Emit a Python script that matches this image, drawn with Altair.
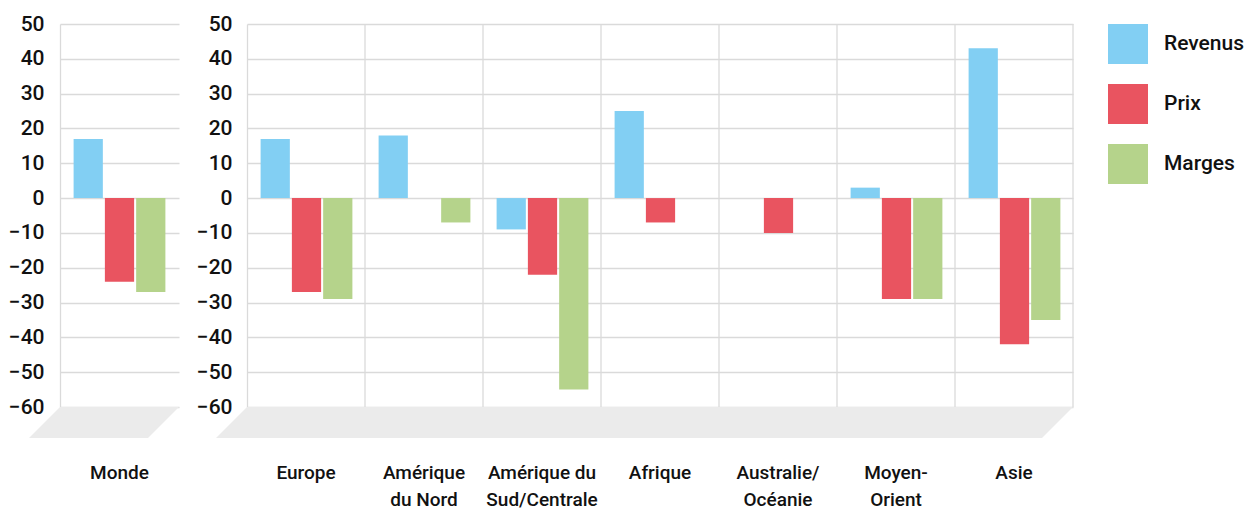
import altair as alt
import pandas as pd

# ---------------- data ----------------
series = ["Revenus", "Prix", "Marges"]
colors = ["#82CFF3", "#E95460", "#B5D38B"]

world = ["Monde"]
world_revenus = [17]
world_prix = [-24]
world_marges = [-27]

regions = ["Europe", "Amérique\ndu Nord", "Amérique du\nSud/Centrale", "Afrique",
           "Australie/\nOcéanie", "Moyen-\nOrient", "Asie"]
revenus = [17, 18, -9, 25, 0, 3, 43]
prix = [-27, 0, -22, -7, -10, -29, -42]
marges = [-29, -7, -55, 0, 0, -29, -35]

y_ticks = list(range(-60, 51, 10))

# ---------------- style ----------------
GRID = "#DADADA"
FLOOR = "#EBEBEB"
FONT = "Roboto"
H = 383
W_WORLD = 119
W_REG = 826
DEPTH = 31


def long_df(cats, rev, pri, mar):
    rows = []
    for c, a, b, d in zip(cats, rev, pri, mar):
        rows.append({"cat": c, "serie": "Revenus", "val": a})
        rows.append({"cat": c, "serie": "Prix", "val": b})
        rows.append({"cat": c, "serie": "Marges", "val": d})
    return pd.DataFrame(rows)


def floor_path(W):
    k = W / 2.0
    d = DEPTH / 2.0
    pts = [(-W / 2 + d, -d), (W / 2 + d, -d), (W / 2 - d, d), (-W / 2 - d, d)]
    s = "M" + " L".join(f"{x / k:.5f},{y / k:.5f}" for x, y in pts) + " Z"
    return s


def x_axis():
    return alt.Axis(title=None, ticks=False, domain=False, grid=False,
                    labelAngle=0, labelPadding=56, labelFontSize=19,
                    labelLineHeight=27, labelFont=FONT, labelFontWeight=500,
                    labelColor="#111111", labelBaseline="top",
                    labelExpr="split(datum.label, '\\n')")


def panel(cats, rev, pri, mar, W, label_pad, with_rules):
    df = long_df(cats, rev, pri, mar)
    x_enc = alt.X("cat:N", sort=cats,
                  scale=alt.Scale(paddingInner=0, paddingOuter=0), axis=x_axis())
    y_enc = alt.Y(
        "val:Q",
        scale=alt.Scale(domain=[-60, 50], nice=False, zero=False),
        axis=alt.Axis(title=None, values=y_ticks, ticks=False, domain=True,
                      domainColor=GRID, domainWidth=1.3, grid=True,
                      gridColor=GRID, gridWidth=1.3, labelFontSize=21,
                      labelFont=FONT, labelFontWeight=500, labelColor="#111111",
                      labelPadding=label_pad),
    )
    bars = alt.Chart(df).mark_bar(strokeWidth=0).encode(
        x=x_enc,
        xOffset=alt.XOffset("serie:N", sort=series,
                            scale=alt.Scale(paddingInner=0.065, paddingOuter=0.435)),
        y=y_enc,
        color=alt.Color("serie:N", sort=series,
                        scale=alt.Scale(domain=series, range=colors),
                        legend=alt.Legend(title=None)),
    )
    floor = alt.Chart(pd.DataFrame({"f": [0]})).mark_point(
        shape=floor_path(W), size=W * W, filled=True, fill=FLOOR,
        strokeWidth=0, opacity=1,
    ).encode(x=alt.value(W / 2 - DEPTH / 2), y=alt.value(H + DEPTH / 2))
    layers = [floor]
    if with_rules:
        rules = alt.Chart(pd.DataFrame({"cat": cats})).mark_rule(
            color=GRID, strokeWidth=1.3
        ).encode(x=alt.X("cat:N", sort=cats, bandPosition=1,
                         scale=alt.Scale(paddingInner=0, paddingOuter=0),
                         axis=x_axis()))
        layers.append(rules)
    layers.append(bars)
    return alt.layer(*layers).properties(width=W, height=H)


left = panel(world, world_revenus, world_prix, world_marges, W_WORLD, 16, False)
right = panel(regions, revenus, prix, marges, W_REG, 15, True)

chart = alt.hconcat(left, right, spacing=17).properties(
    padding={"left": 0, "top": 5, "right": 0, "bottom": 0}
).configure(font=FONT).configure_view(stroke=None).configure_legend(
    orient="right", offset=34, padding=0, symbolType="square", symbolSize=1600,
    symbolStrokeWidth=0, labelFontSize=21, labelFont=FONT, labelFontWeight=500,
    labelColor="#111111", labelOffset=16, rowPadding=20,
)

chart.save("out.html", embed_options={"renderer": "svg", "actions": False})
